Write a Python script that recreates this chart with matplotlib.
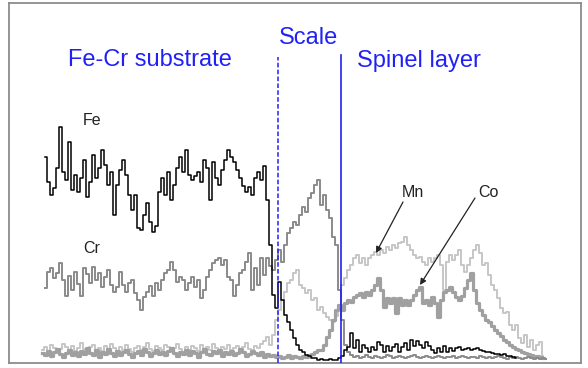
#!/usr/bin/env python3
"""
EDS line scan across the Fe-Cr substrate / oxide scale / spinel coating.

Four element profiles (Fe, Cr, Mn, Co) along the scan, counts in arbitrary
units, with the scale boundaries marked in blue.

Output: out.png (588 x 368 px)
"""

import numpy as np
import matplotlib.pyplot as plt

plt.rcParams["font.family"] = ["Liberation Sans", "DejaVu Sans"]

# ── scan data (position in a.u., counts in a.u.) ──
STEP = 3  # scan step between points

FE_START = 36
FE = [
    206, 181, 168, 175, 195, 236, 191, 183, 221, 173, 188, 171, 185, 203, 166, 181,
    208, 185, 195, 213, 198, 178, 191, 148, 178, 193, 203, 188, 168, 153, 168, 135,
    133, 148, 160, 141, 131, 137, 171, 185, 168, 191, 163, 178, 195, 206, 191, 213,
    188, 183, 187, 191, 181, 203, 195, 163, 201, 185, 178, 193, 203, 213, 206, 201,
    193, 185, 177, 171, 176, 168, 185, 191, 183, 197, 163, 118, 68, 55, 81, 63,
    48, 41, 33, 25, 18, 13, 11, 8, 7, 5, 5, 3, 4, 3, 3, 4,
    3, 3, 5, 7, 13, 16, 30, 15, 23, 11, 18, 15, 11, 16, 13, 21,
    18, 11, 17, 12, 16, 19, 11, 16, 20, 13, 23, 17, 22, 18, 15, 21,
    17, 13, 10, 15, 11, 17, 11, 15, 12, 15, 16, 13, 14, 15, 13, 14,
    15, 13, 12, 11, 11, 10, 9, 9, 8, 9, 7, 7, 6, 5,
]

CR_START = 36
CR = [
    75, 91, 95, 85, 90, 100, 83, 67, 87, 73, 91, 79, 67, 95, 89, 80,
    96, 83, 90, 76, 86, 93, 78, 71, 76, 91, 78, 71, 80, 83, 70, 63,
    53, 66, 71, 77, 67, 80, 73, 83, 90, 93, 101, 93, 81, 86, 83, 73,
    80, 86, 76, 83, 65, 73, 86, 93, 100, 103, 105, 98, 103, 86, 83, 67,
    78, 90, 93, 101, 110, 73, 95, 78, 105, 88, 105, 97, 93, 103, 113, 101,
    118, 130, 135, 141, 138, 148, 156, 151, 165, 170, 178, 183, 158, 168, 153, 145,
    126, 118, 73, 43, 18, 11,
    8, 6, 7, 5, 6, 8, 6, 5, 7, 6, 5, 6, 8, 7, 5, 6,
    7, 6, 5, 6, 7, 8, 6, 5, 6, 7, 6, 5, 6, 7, 6, 5,
    6, 6, 7, 5, 6, 7, 6, 5, 6, 6, 5, 7, 6, 5, 6, 5,
    6, 7, 6, 5, 4, 6, 5, 6, 5, 4, 5, 6, 5, 4, 5, 4,
    5, 4,
]

MN_START = 33
MN = [
    13, 16, 12, 18, 15, 11, 14, 19, 16, 13, 17, 12, 15, 20, 14, 11,
    16, 18, 13, 15, 12, 17, 14, 19, 15, 12, 16, 13, 18, 14, 11, 15,
    17, 13, 16, 20, 14, 12, 17, 15, 13, 18, 16, 12, 15, 19, 14, 11,
    16, 13, 17, 15, 12, 18, 14, 16, 13, 19, 15, 12, 16, 14, 18, 13,
    15, 17, 12, 16, 20, 14, 13, 17, 15, 19, 22, 26,
    18, 28, 43, 53, 63, 71, 80, 83, 90, 93, 78, 75, 70, 73, 63, 65,
    53, 56, 50, 46, 43, 41, 47, 58, 78, 85, 93, 98, 105, 108, 100, 105,
    98, 105, 108, 111, 108, 113, 110, 116, 113, 118, 115, 120, 121, 126, 118, 113,
    108, 105, 106, 101, 98, 105, 101, 105, 108, 98, 73, 101, 108, 103, 108, 113,
    98, 91, 98, 105, 113, 118, 110, 98, 100, 88, 78, 73, 65, 55, 50, 51,
    38, 33, 38, 25, 20, 28, 16, 23, 13, 18, 21, 7,
]

CO_START = 33
CO = [
    10, 8, 12, 7, 11, 14, 9, 6, 10, 13, 8, 11, 7, 12, 9, 15,
    10, 8, 13, 6, 11, 9, 14, 10, 7, 12, 8, 11, 13, 9, 6, 10,
    12, 8, 14, 11, 7, 10, 13, 9, 11, 8, 12, 15, 10, 7, 11, 9,
    13, 8, 12, 10, 6, 11, 14, 9, 8, 12, 10, 13, 7, 11, 9, 12,
    8, 10, 14, 11, 7, 9, 12, 10, 8, 11, 6, 9, 7, 8, 6, 7,
    5, 6, 8, 5, 7, 6, 5, 7, 6, 8, 9, 11, 13,
    13, 18, 26, 33, 43, 53, 58, 53, 60, 63, 61, 66, 68, 70, 66, 71,
    68, 73, 78, 85, 73, 56, 65, 60, 65, 50, 65, 58, 63, 58, 63, 68,
    73, 76, 60, 63, 58, 66, 60, 46, 63, 71, 73, 76, 71, 66, 63, 67,
    75, 83, 90, 73, 60, 53, 48, 43, 41, 37, 33, 30, 27, 23, 21, 18,
    16, 14, 13, 11, 10, 9, 8, 7, 7, 6, 5,
]

# boundaries: substrate/scale (dashed) and scale/spinel (solid)
BOUNDARY_SCALE = 269
BOUNDARY_SPINEL = 332

BLUE = "#2121f5"


def scan_positions(start, values):
    return start + STEP * np.arange(len(values))


def make_figure():
    fig = plt.figure(figsize=(5.88, 3.68), dpi=100)
    ax = fig.add_axes([9 / 588, 5 / 368, 572 / 588, 360 / 368])

    # element profiles, lightest first so Fe sits on top
    ax.plot(scan_positions(MN_START, MN), MN, drawstyle="steps-mid",
            color="#c6c6c6", lw=1.4, zorder=2)
    ax.plot(scan_positions(CO_START, CO), CO, drawstyle="steps-mid",
            color="#a0a0a0", lw=2.3, zorder=3)
    ax.plot(scan_positions(CR_START, CR), CR, drawstyle="steps-mid",
            color="#8a8a8a", lw=1.4, zorder=4)
    ax.plot(scan_positions(FE_START, FE), FE, drawstyle="steps-mid",
            color="black", lw=1.1, zorder=5)

    # layer boundaries
    ax.plot([BOUNDARY_SCALE, BOUNDARY_SCALE], [0, 306], color=BLUE,
            lw=1.1, ls=(0, (3, 1.5)), zorder=6)
    ax.plot([BOUNDARY_SPINEL, BOUNDARY_SPINEL], [0, 308], color=BLUE,
            lw=1.2, zorder=6)

    # layer names
    ax.text(59, 297, "Fe-Cr substrate", color=BLUE, fontsize=17)
    ax.text(270, 319, "Scale", color=BLUE, fontsize=17)
    ax.text(348, 296, "Spinel layer", color=BLUE, fontsize=17)

    # element labels
    ax.text(74, 238, "Fe", color="#222222", fontsize=11.5)
    ax.text(74, 110, "Cr", color="#222222", fontsize=11.5)
    ax.text(393, 166, "Mn", color="#222222", fontsize=11.5)
    ax.text(469, 166, "Co", color="#222222", fontsize=11.5)

    arrow = dict(arrowstyle="-|>", color="#222222", lw=0.9,
                 mutation_scale=9, shrinkA=0, shrinkB=0)
    ax.annotate("", xy=(367, 110), xytext=(394, 161), arrowprops=arrow)
    ax.annotate("", xy=(411, 78), xytext=(466, 165), arrowprops=arrow)

    ax.set_xlim(0, 572)
    ax.set_ylim(0, 360)
    ax.set_xticks([])
    ax.set_yticks([])
    for spine in ax.spines.values():
        spine.set_color("#8c8c8c")
        spine.set_linewidth(1.3)

    fig.savefig("out.png", dpi=100, facecolor="white")
    plt.close(fig)


if __name__ == "__main__":
    make_figure()
